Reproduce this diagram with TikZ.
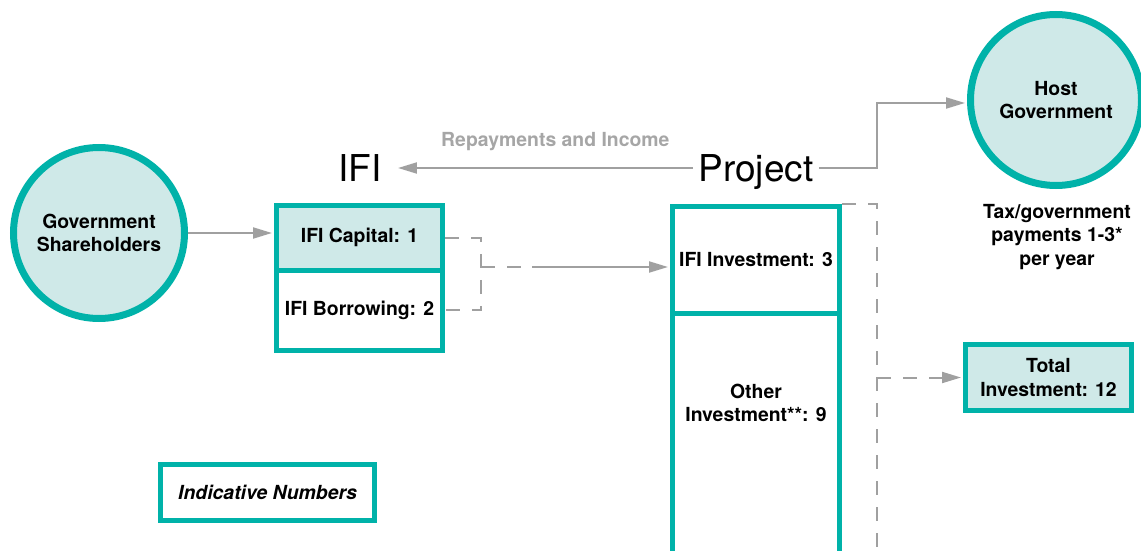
\documentclass[tikz,border=0pt]{standalone}
\usepackage{fontspec}
\setmainfont{TeX Gyre Heros}
\usetikzlibrary{arrows.meta}
\definecolor{rahmen}{RGB}{0,178,169}
\definecolor{flaeche}{RGB}{207,233,232}
\definecolor{pfeil}{RGB}{160,160,160}
\definecolor{schrift}{RGB}{166,166,166}

\begin{document}
\begin{tikzpicture}[x=0.5pt, y=-0.5pt,
	kasten/.style={draw=rahmen, line width=2.5pt, rectangle, inner sep=0pt, align=center, font=\fontsize{9.7}{11.8}\selectfont\bfseries},
	kreis/.style={draw=rahmen, fill=flaeche, line width=3.5pt, circle, minimum size=85.5pt, inner sep=0pt, align=center, font=\fontsize{9.7}{11.8}\selectfont\bfseries},
	gross/.style={font=\fontsize{18.5}{22}\selectfont, text height=14pt, text depth=0pt, inner sep=2.5pt},
	pfeilstrich/.style={pfeil, line width=1pt, -{Triangle[length=9.5pt, width=5.5pt]}, shorten >=1pt},
	strichlinie/.style={pfeil, line width=1pt, dash pattern=on 7pt off 6pt}]

	\useasboundingbox (0,0) rectangle (1141,551);
	\clip (0,0) rectangle (1141,551);

	% Links
	\node[kreis] (gov) at (99,233) {Government\\Shareholders};

	\node[kasten, fill=flaeche, minimum width=83pt, minimum height=32.25pt] (cap) at (359.5,237.75) {IFI Capital: 1};
	\node[kasten, minimum width=83pt, minimum height=40.25pt] (bor) at (359.5,310.25) {IFI Borrowing: 2};

	\node[kasten, minimum width=107pt, minimum height=28pt, font=\fontsize{9.7}{11.8}\selectfont\bfseries\itshape] (ind) at (267.5,492.5) {Indicative Numbers};

	\node[gross] (ifi) at (360,168) {IFI};

	% Mitte
	\node[gross] (proj) at (756,168) {Project};

	\node[kasten, minimum width=83.5pt, minimum height=53.25pt] (inv3) at (756,259.75) {IFI Investment: 3};
	\node[kasten, minimum width=83.5pt, minimum height=143.5pt] (inv9) at (756,456.5) {};
	\node[align=center, font=\fontsize{9.7}{11.8}\selectfont\bfseries] (inv9txt) at (756,403) {Other\\Investment**: 9};

	% Rechts
	\node[kreis] (host) at (1056,100) {Host\\Government};
	\node[align=center, font=\fontsize{9.7}{11.8}\selectfont\bfseries] (tax) at (1057,237) {Tax/government\\payments 1-3*\\per year};

	\node[kasten, fill=flaeche, minimum width=83pt, minimum height=33pt] (tot) at (1048.5,377.5) {Total\\Investment: 12};

	% Verbindungen
	\coordinate (knick) at (481,267);
	\coordinate (mitte) at (532,267);
	\coordinate (hoch) at (877,103);
	\coordinate (senk) at (877,600);

	\draw[pfeilstrich] (gov.east) -- (gov.east -| cap.west);

	\draw[strichlinie] (cap.east) -| (knick) |- (bor.east);
	\draw[strichlinie] (knick) -- (mitte);
	\draw[pfeilstrich] (mitte) -- (mitte -| inv3.west);

	\draw[pfeilstrich, shorten >=5.5pt] (proj) -- (ifi) node[pos=0.45, above=5pt, text=schrift, font=\fontsize{9.7}{11.8}\selectfont\bfseries] (rep) {Repayments and Income};

	\draw[pfeilstrich] (proj) -| (hoch) -- (hoch -| host.west);

	\draw[strichlinie] (inv3.north east) -| (senk);
	\draw[strichlinie, -{Triangle[length=9.5pt, width=5.5pt]}, shorten >=1pt] (senk |- tot) -- (tot.west);
\end{tikzpicture}
\end{document}
